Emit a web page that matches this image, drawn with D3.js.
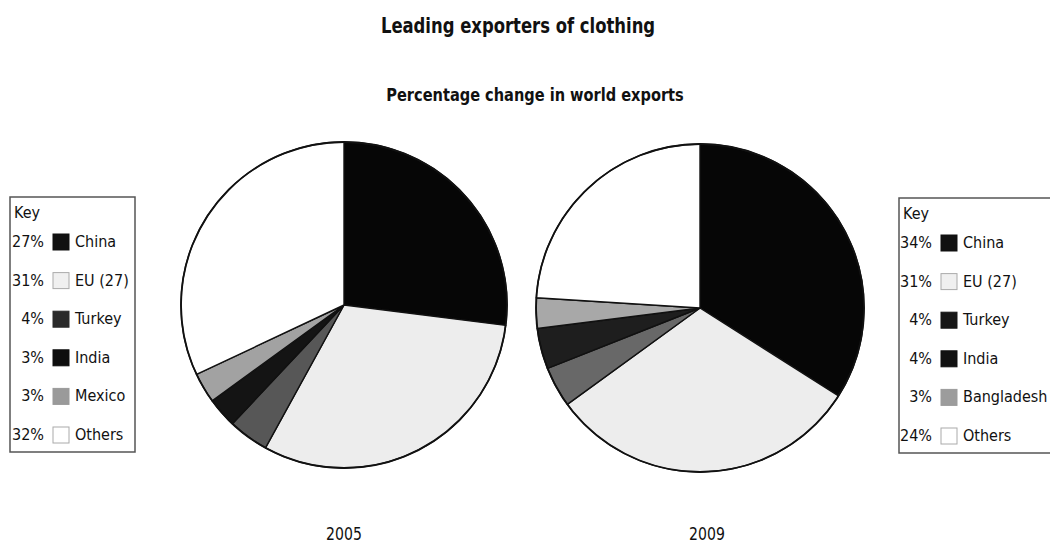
<!DOCTYPE html>
<html>
<head>
<meta charset="utf-8">
<script src="https://cdn.jsdelivr.net/npm/d3@7"></script>
<style>
  html, body { margin: 0; padding: 0; background: #fff; }
  svg { display: block; }
  text { font-family: "Liberation Sans Narrow", "DejaVu Sans Condensed", "Liberation Sans", sans-serif; fill: #111; }
</style>
</head>
<body>
<svg id="chart" width="1050" height="544"></svg>
<script>
// Share of world clothing exports by exporter
const categories2005 = ["China", "EU (27)", "Turkey", "India", "Mexico", "Others"];
const shares2005 = [27, 31, 4, 3, 3, 32];
const categories2009 = ["China", "EU (27)", "Turkey", "India", "Bangladesh", "Others"];
const shares2009 = [34, 31, 4, 4, 3, 24];
const years = ["2005", "2009"];

// Fill tones: pie slices and key swatches
const sliceFill2005 = ["#060606", "#ededed", "#575757", "#141414", "#a2a2a2", "#ffffff"];
const sliceFill2009 = ["#060606", "#ededed", "#686868", "#1e1e1e", "#a8a8a8", "#ffffff"];
const swatchFill2005 = ["#111111", "#f0f0f0", "#2a2a2a", "#0e0e0e", "#9a9a9a", "#ffffff"];
const swatchFill2009 = ["#111111", "#f0f0f0", "#161616", "#111111", "#9c9c9c", "#ffffff"];

const svg = d3.select("#chart");

// Headings, narrowed horizontally to a condensed look
svg.append("g")
  .attr("transform", "translate(518,33) scale(0.87,1)")
  .append("text")
  .attr("text-anchor", "middle")
  .attr("font-size", 21).attr("font-weight", "bold")
  .text("Leading exporters of clothing");

svg.append("g")
  .attr("transform", "translate(535,101) scale(0.9,1)")
  .append("text")
  .attr("text-anchor", "middle")
  .attr("font-size", 18).attr("font-weight", "bold")
  .text("Percentage change in world exports");

const pie = d3.pie().sort(null).value(d => d);

function drawPie(values, fills, cx, cy, r, year, yearX) {
  const g = svg.append("g").attr("transform", `translate(${cx},${cy})`);
  const arc = d3.arc().innerRadius(0).outerRadius(r);
  g.selectAll("path")
    .data(pie(values))
    .join("path")
    .attr("d", arc)
    .attr("fill", (d, i) => fills[i])
    .attr("stroke", "#111")
    .attr("stroke-width", 1.4)
    .attr("stroke-linejoin", "round");
  g.append("circle")
    .attr("r", r)
    .attr("fill", "none")
    .attr("stroke", "#111")
    .attr("stroke-width", 1.8);
  svg.append("g")
    .attr("transform", `translate(${yearX},540) scale(0.92,1)`)
    .append("text")
    .attr("text-anchor", "middle")
    .attr("font-size", 17)
    .text(year);
}

drawPie(shares2005, sliceFill2005, 344, 305, 163, years[0], 344);
drawPie(shares2009, sliceFill2009, 700, 308, 164, years[1], 707);

function drawKey(cats, vals, fills, x, y, w, pctRight) {
  const g = svg.append("g");
  g.append("rect")
    .attr("x", x).attr("y", y).attr("width", w).attr("height", 255)
    .attr("fill", "#fff").attr("stroke", "#555").attr("stroke-width", 1.5);
  g.append("text")
    .attr("x", x + 4).attr("y", y + 21)
    .attr("font-size", 16)
    .text("Key");
  const rowY = d3.scaleLinear().domain([0, cats.length - 1]).range([y + 50, y + 243]);
  cats.forEach((c, i) => {
    const by = rowY(i);
    g.append("text")
      .attr("x", pctRight).attr("y", by)
      .attr("text-anchor", "end")
      .attr("font-size", 16)
      .text(vals[i] + "%");
    g.append("rect")
      .attr("x", pctRight + 9).attr("y", by - 13)
      .attr("width", 16).attr("height", 16)
      .attr("fill", fills[i])
      .attr("stroke", fills[i] === "#ffffff" || fills[i] === "#f0f0f0" ? "#aaa" : fills[i])
      .attr("stroke-width", 1);
    g.append("text")
      .attr("x", pctRight + 31).attr("y", by)
      .attr("font-size", 16)
      .text(c);
  });
}

drawKey(categories2005, shares2005, swatchFill2005, 10, 197, 125, 44);
drawKey(categories2009, shares2009, swatchFill2009, 899, 198, 170, 932);
</script>
</body>
</html>
